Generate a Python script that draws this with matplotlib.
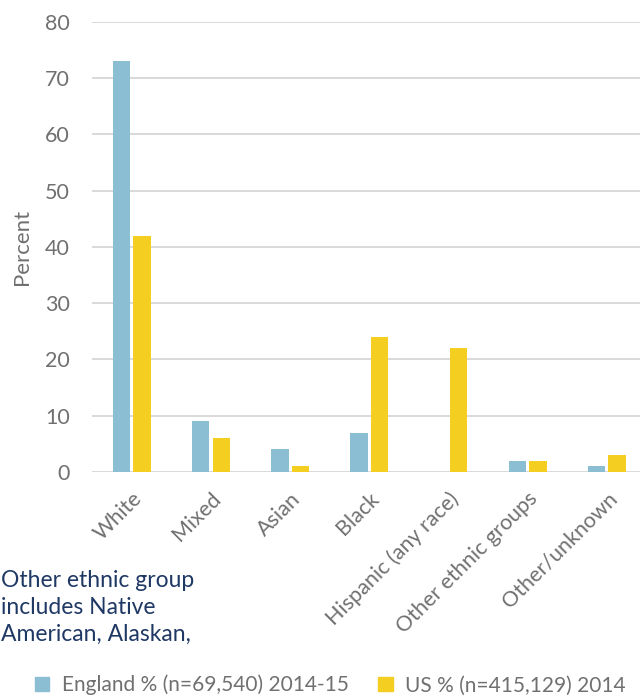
#!/usr/bin/env python
# -*- coding: utf-8 -*-
"""Ethnic group comparison, England vs US."""
import matplotlib
matplotlib.use("Agg")
import matplotlib.pyplot as plt
from matplotlib.patches import Patch
import numpy as np

categories = ["White", "Mixed", "Asian", "Black", "Hispanic (any race)",
              "Other ethnic groups", "Other/unknown"]
england = [73, 9, 4, 7, 0, 2, 1]
us = [42, 6, 1, 24, 22, 2, 3]
y_ticks = [0, 10, 20, 30, 40, 50, 60, 70, 80]
england_label = "England % (n=69,540) 2014-15"
us_label = "US % (n=415,129) 2014"
note = "Other ethnic group\nincludes Native\nAmerican, Alaskan,"


def main():
    """Run main."""
    plt.rcParams["font.family"] = ["Lato", "DejaVu Sans"]
    grey = "#707070"
    blue = "#8BBDD3"
    yellow = "#F4CE21"

    fig = plt.figure(figsize=(6.4, 6.97), dpi=100)
    ax = fig.add_axes([0.144, 0.3228, 0.866, 0.6461])

    x = np.arange(len(categories))
    w = 0.22
    ax.bar(x - 0.13, england, w, color=blue, zorder=3)
    ax.bar(x + 0.13, us, w, color=yellow, zorder=3)

    ax.set_xlim(-0.5, len(categories) - 0.5)
    ax.set_ylim(0, 80)
    ax.set_yticks(y_ticks)
    ax.yaxis.grid(True, color="#D9D9D9", linewidth=1.4, zorder=0)
    for s in ax.spines.values():
        s.set_visible(False)
    ax.tick_params(axis="both", length=0, labelsize=15.5, labelcolor=grey)
    ax.tick_params(axis="y", pad=16)
    ax.set_xticks(x)
    ax.set_xticklabels(categories, rotation=45, ha="right",
                       rotation_mode="anchor")
    ax.tick_params(axis="x", pad=12)
    ax.set_ylabel("Percent", fontsize=16, color=grey, va="center")
    ax.yaxis.set_label_coords(-0.126, 0.5)

    fig.text(0.002, 0.129, note, fontsize=16.5, color="#1F3864",
             va="center", ha="left", linespacing=1.35)

    handles = [Patch(color=blue, label=england_label),
               Patch(color=yellow, label=us_label)]
    fig.legend(handles=handles, loc="center", bbox_to_anchor=(0.516, 0.017),
               ncol=2, frameon=False, fontsize=15, labelcolor=grey,
               handlelength=0.7, handleheight=0.7, handletextpad=0.6,
               columnspacing=1.4)

    fig.savefig("out.png", dpi=100)


if __name__ == "__main__":
    main()
